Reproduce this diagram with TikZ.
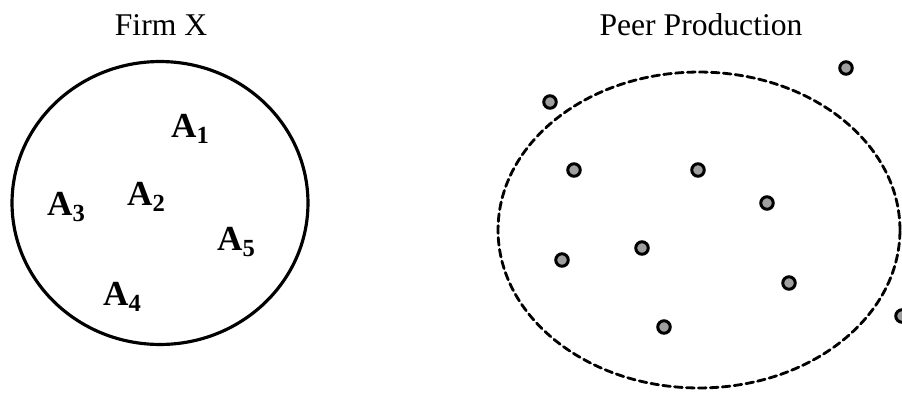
\documentclass[tikz,border=0pt]{standalone}
\usepackage{fontspec}
\setmainfont{Liberation Serif}
\usepackage{tikz}
\usetikzlibrary{shapes.geometric}
\newcommand{\agent}[1]{\textbf{A}\raisebox{-3pt}{\fontsize{14}{14}\selectfont\bfseries #1}}
\tikzset{
  ttitle/.style={font=\fontsize{18}{20}\selectfont, inner sep=0pt},
  tagent/.style={font=\fontsize{20}{22}\selectfont, inner sep=0pt},
  tfirm/.style={ellipse, draw=black, line width=1.8pt, minimum width=5.92cm, minimum height=5.66cm},
  tpeer/.style={ellipse, draw=black, line width=1.6pt, line cap=round,
                dash pattern=on 4.4pt off 2.4pt, minimum width=8.04cm, minimum height=6.32cm},
  tdot/.style={circle, draw=black, fill=gray!75, line width=1.7pt, minimum size=0.25cm, inner sep=0pt},
}
\begin{document}
\begin{tikzpicture}[x=0.02cm, y=-0.02cm]
  \useasboundingbox (0,0) rectangle (902,393);

  % titles
  \node[ttitle] (firmtitle) at (161,25) {Firm X};
  \node[ttitle] (peertitle) at (701,25) {Peer Production};

  % the firm and its agents
  \node[tfirm] (firm) at (160,203) {};
  \node[tagent] (a1) at (190,129) {\agent{1}};
  \node[tagent] (a2) at (146,197) {\agent{2}};
  \node[tagent] (a3) at (66,207)  {\agent{3}};
  \node[tagent] (a4) at (122,297) {\agent{4}};
  \node[tagent] (a5) at (236,242) {\agent{5}};

  % peer production and its contributors
  \node[tpeer] (peer) at (699,230) {};
  \foreach \name/\px/\py in {p1/550/102, p2/846/68, p3/574/170, p4/698/170,
                             p5/767/203, p6/642/248, p7/562/260, p8/789/283,
                             p9/664/327, p10/902/316}
    \node[tdot] (\name) at (\px,\py) {};
\end{tikzpicture}
\end{document}
